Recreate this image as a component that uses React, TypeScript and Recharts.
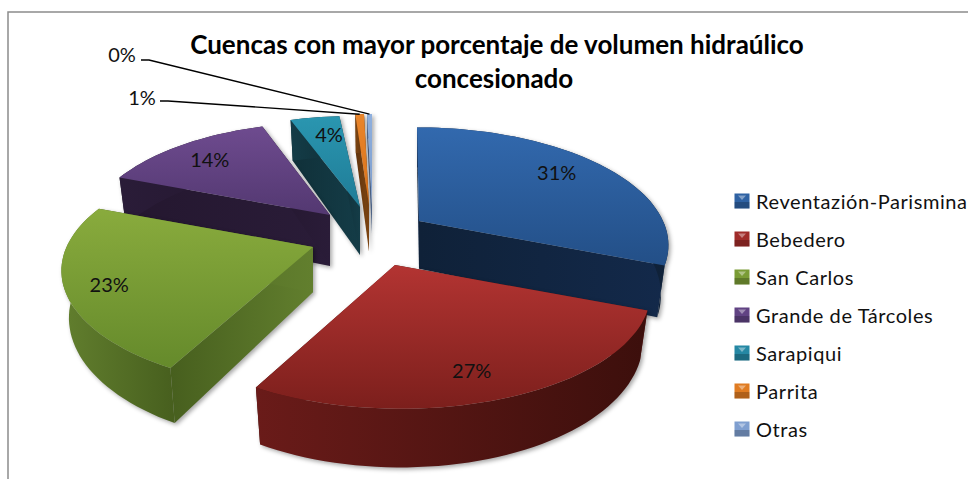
import React from 'react';
import { PieChart, Pie, Legend } from 'recharts';

// ---- data ----
const categories = ['Reventazión-Parismina', 'Bebedero', 'San Carlos', 'Grande de Tárcoles', 'Sarapiqui', 'Parrita', 'Otras'];
const shares = [31, 26.9, 23, 14, 4, 0.7, 0.4];
const titleLines = ['Cuencas con mayor porcentaje de volumen hidraúlico', 'concesionado'];

// ---- styles ----
const FONT = 'Lato, Carlito, "Open Sans", sans-serif';
const topFrom = ['#3269ae', '#b33432', '#89ab3d', '#6e4b8f', '#2a96b0', '#e9852b', '#8fb0de'];
const topTo = ['#234f87', '#7c1f1c', '#658a2b', '#533871', '#1f7c97', '#d9721a', '#7c9ccc'];
const sideFrom = ['#13294a', '#6a1b19', '#627f2e', '#2a1c38', '#143c47', '#7d4512', '#4f6588'];
const sideTo = ['#0f2138', '#3c0f0c', '#475f1e', '#24172f', '#103039', '#5f330c', '#3f5270'];
const fills = ['#2f62a3', '#a02c2a', '#7a9c35', '#614383', '#2588a4', '#e07c22', '#7f9fd0'];

// per-slice explosion (screen offset from the pie centre), depth in the tilted plane, lean, extrusion
const explodeX = [19, -5, -87, -70, -40, -31, -28];
const explodeY = [-9, 35, 17, -15, -23, -25, -25];
const planeDepth = [0.02, -0.08, -0.03, 0.1, 0.2, 0.2, 0.2];
const lean = [-2, -6, 0, -4, -7, 0, 0];
const extrude = [48, 46, 45, 52, 50, 48, 30];
const labelRadius = [0.72, 0.75, 0.83, 0.8, 0.82, 0, 0];
const labelNudgeX = [4, -2, 0, 1, 7, 0, 0];
const labelNudgeY = [-7, 11, 3, 2, 2, 0, 0];
const layers = [[0, 4, 5, 6], [3], [1, 2]];

const CX = 400;
const CY = 230;
const RADIUS = 245;
const K = 0.2;
const Q = 0.46;

type P = { x: number; y: number; s: number };

function project(i: number, cx: number, cy: number, R: number, thetaDeg: number, r: number): P {
  const t = (thetaDeg * Math.PI) / 180;
  const u = r * Math.sin(t);
  const v = r * Math.cos(t);
  const s = 1 / (1 + K * (v + planeDepth[i]));
  return {
    x: cx + explodeX[i] + R * u * s + lean[i] * v,
    y: cy + explodeY[i] - R * Q * v * s,
    s,
  };
}

const lower = (i: number, p: P, ax: number): P => ({ x: p.x + (ax - p.x) * 0.03, y: p.y + extrude[i] * p.s, s: p.s });
const toPath = (pts: P[]) => 'M' + pts.map((p) => `${p.x.toFixed(1)},${p.y.toFixed(1)}`).join('L') + 'Z';

function makeShape(layer: number[]) {
  return function SliceShape(props: any) {
    const i = categories.indexOf(props.name);
    if (!layer.includes(i)) return <g />;
    const { cx, cy, outerRadius: R } = props;
    const a = 90 - Math.max(props.startAngle, props.endAngle);
    const b = 90 - Math.min(props.startAngle, props.endAngle);
    const steps = Math.max(2, Math.ceil((b - a) / 2));
    const arc: P[] = [];
    for (let k = 0; k <= steps; k++) arc.push(project(i, cx, cy, R, a + ((b - a) * k) / steps, 1));
    const apex = project(i, cx, cy, R, 0, 0);
    const ax = apex.x;
    const arcLow = arc.map((p) => lower(i, p, ax));
    const apexLow = lower(i, apex, ax);
    const first = arc[0];
    const last = arc[arc.length - 1];
    const band = toPath([...arc, ...[...arcLow].reverse()]);
    const wallA = toPath([apex, first, arcLow[0], apexLow]);
    const wallB = toPath([apex, last, arcLow[arcLow.length - 1], apexLow]);
    const top = toPath([apex, ...arc]);
    return (
      <g style={{ filter: 'drop-shadow(2px 2px 2px rgba(0,0,0,0.35))' }}>
        <path d={wallA} fill={`url(#wall-${i})`} />
        <path d={wallB} fill={`url(#wall-${i})`} />
        <path d={band} fill={`url(#side-${i})`} />
        <path d={top} fill={`url(#top-${i})`} />
      </g>
    );
  };
}

function SliceLabel(props: any) {
  const i = categories.indexOf(props.name);
  const { cx, cy, outerRadius: R, midAngle, value } = props;
  const text = `${Math.round(value)}%`;
  const common = { fontFamily: FONT, fontSize: 20, fill: '#111', textAnchor: 'middle' as const, dominantBaseline: 'central' as const };
  if (labelRadius[i] === 0) {
    const tip = project(i, cx, cy, R, 90 - midAngle, 1);
    const lx = cx + (i === 5 ? -258 : -278);
    const ly = cy + (i === 5 ? -133 : -176);
    const ex = lx + (i === 5 ? 18 : 19);
    const ey = ly + (i === 5 ? 4 : 6);
    return (
      <g>
        <polyline
          points={`${ex},${ey} ${ex + 8},${ey} ${tip.x.toFixed(1)},${tip.y.toFixed(1)}`}
          fill="none"
          stroke="#000"
          strokeWidth={1.4}
        />
        <text x={lx} y={ly} {...common}>{text}</text>
      </g>
    );
  }
  const p = project(i, cx, cy, R, 90 - midAngle, labelRadius[i]);
  return <text x={p.x + labelNudgeX[i]} y={p.y + labelNudgeY[i]} {...common}>{text}</text>;
}

function LegendBox(props: any) {
  const items = (props.payload || []).filter((e: any) => e.type !== 'none');
  return (
    <div style={{ fontFamily: FONT, fontSize: 20, color: '#111' }}>
      {items.map((e: any, n: number) => (
        <div key={n} style={{ height: 38, display: 'flex', alignItems: 'center', whiteSpace: 'nowrap' }}>
          <svg width={16} height={16} style={{ marginRight: 6, flex: 'none' }}>
            <rect x={0.5} y={0.5} width={15} height={15} fill={e.color} />
            <rect x={0.5} y={9} width={15} height={6.5} fill="#000" opacity={0.22} />
            <polygon points="4,2.5 12,2.5 8,7" fill="#fff" opacity={0.4} />
          </svg>
          <span style={{ letterSpacing: 0.58 }}>{e.value}</span>
        </div>
      ))}
    </div>
  );
}

const rows = categories.map((name, i) => ({ name, value: shares[i], fill: fills[i] }));

export default function App() {
  return (
    <div style={{ position: 'fixed', left: 0, top: 0, width: 968, height: 479, overflow: 'hidden', background: '#fff' }}>
      <PieChart width={968} height={479} margin={{ top: 0, right: 0, bottom: 0, left: 0 }}>
        <defs>
          {categories.map((_, i) => (
            <linearGradient key={`t${i}`} id={`top-${i}`} x1="0" y1="0" x2="0" y2="1">
              <stop offset="0" stopColor={topFrom[i]} />
              <stop offset="1" stopColor={topTo[i]} />
            </linearGradient>
          ))}
          {categories.map((_, i) => (
            <linearGradient key={`s${i}`} id={`side-${i}`} x1="0" y1="0" x2="1" y2="0">
              <stop offset="0" stopColor={sideFrom[i]} />
              <stop offset="1" stopColor={sideTo[i]} />
            </linearGradient>
          ))}
          {categories.map((_, i) => (
            <linearGradient key={`w${i}`} id={`wall-${i}`} x1="0" y1="0" x2="1" y2="0">
              <stop offset="0" stopColor={sideTo[i]} />
              <stop offset="1" stopColor={sideFrom[i]} />
            </linearGradient>
          ))}
        </defs>
        <rect x={8} y={12} width={1000} height={520} fill="none" stroke="#8c8c8c" strokeWidth={1.5} />
        {titleLines.map((line, n) => (
          <text key={n} x={n === 0 ? 497 : 494} y={54 + n * 34} textAnchor="middle" fontFamily={FONT} fontWeight={700} fontSize={26} fill="#000">
            {line}
          </text>
        ))}
        {layers.map((layer, n) => (
          <Pie
            key={n}
            data={rows}
            dataKey="value"
            nameKey="name"
            cx={CX}
            cy={CY}
            innerRadius={0}
            outerRadius={RADIUS}
            startAngle={90}
            endAngle={-270}
            stroke="none"
            isAnimationActive={false}
            legendType={n === 0 ? 'square' : 'none'}
            shape={makeShape(layer)}
            labelLine={false}
            label={n === layers.length - 1 ? SliceLabel : false}
          />
        ))}
        <Legend
          layout="vertical"
          content={LegendBox}
          itemSorter={null}
          wrapperStyle={{ position: 'absolute', left: 734, top: 182, width: 240 }}
        />
      </PieChart>
    </div>
  );
}
